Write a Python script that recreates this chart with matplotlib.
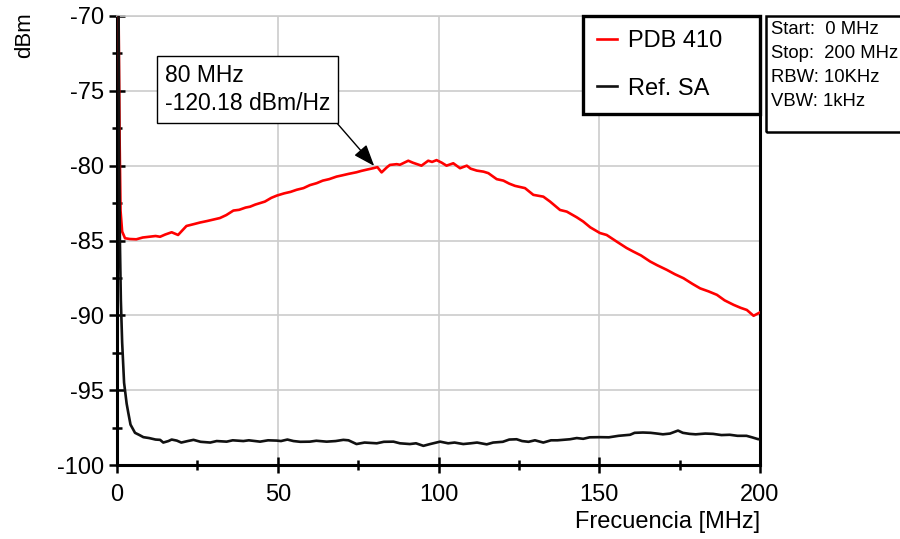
import matplotlib
matplotlib.use("Agg")
import matplotlib.pyplot as plt
from matplotlib.patches import Rectangle
from matplotlib.ticker import MultipleLocator

plt.rcParams['font.family'] = ['Liberation Sans', 'DejaVu Sans']
plt.rcParams['axes.unicode_minus'] = False

# PDB 410 measured spectrum (MHz, dBm)
pdb_freq = [0.5, 0.8, 1.1, 1.6, 2.5, 4, 6, 8, 10, 12, 13.4, 15, 17, 19, 21.6, 24, 25.8,
            28, 30, 32, 34, 36.2, 38, 40, 41.4, 43, 44.5, 46, 48, 49.7, 52, 54, 55.9,
            58, 60, 62.1, 64, 66, 68.3, 70, 72, 74.5, 76, 78, 79.7, 81, 82.3, 84, 84.9,
            87, 88, 90.6, 92, 94.7, 96.8, 98, 99.4, 101, 102.5, 104.6, 106.7, 108.8,
            110, 111.9, 114, 115.5, 118.1, 120.2, 122, 123.8, 126.9, 129.5, 132.6,
            134.7, 137.8, 139.9, 143, 145, 147.2, 150.2, 152.3, 155.4, 158.5, 160.6,
            163, 165.8, 168, 171, 173.5, 176.2, 179, 181.4, 184, 186.6, 189, 191.8,
            194, 195.9, 198, 199.6, 200]
pdb_level = [-70, -78, -83, -84.4, -84.85, -84.9, -84.92, -84.8, -84.75, -84.7, -84.75,
             -84.6, -84.45, -84.63, -84.03, -83.9, -83.8, -83.7, -83.6, -83.5, -83.3,
             -83.0, -82.95, -82.8, -82.74, -82.6, -82.5, -82.4, -82.15, -82.0, -81.85,
             -81.75, -81.61, -81.5, -81.3, -81.17, -81.0, -80.9, -80.73, -80.65, -80.55,
             -80.44, -80.35, -80.25, -80.17, -80.1, -80.45, -80.1, -79.95, -79.9, -79.94,
             -79.67, -79.8, -80.0, -79.67, -79.75, -79.63, -79.8, -80.0, -79.84, -80.17,
             -80.0, -80.2, -80.33, -80.4, -80.5, -80.9, -81.0, -81.2, -81.35, -81.5,
             -81.95, -82.07, -82.4, -82.96, -83.07, -83.45, -83.73, -84.12, -84.5,
             -84.63, -85.07, -85.5, -85.74, -86.0, -86.4, -86.65, -86.96, -87.25,
             -87.52, -87.9, -88.2, -88.4, -88.63, -89.0, -89.3, -89.5, -89.64, -90.03,
             -89.85, -89.8]

# Reference spectrum analyser floor (MHz, dBm)
ref_freq = [0.5, 0.7, 0.9, 1.2, 1.6, 2.2, 3.0, 3.5, 4.2, 5.6, 7, 8.2, 10, 12, 13.4, 14.4,
            16, 17, 18.6, 20, 22, 23.8, 26, 29, 31, 34.1, 36, 39.3, 41, 44.5, 47, 49.7,
            51, 53, 54.9, 57, 60, 62, 65.2, 68, 70.4, 72, 74.5, 77, 80.8, 83, 86, 88,
            91.1, 93, 95.3, 97.4, 100.5, 103, 105, 107.7, 110, 112, 115, 117, 120, 122,
            124.3, 126, 128, 130, 132.6, 135, 137, 140.9, 143, 145, 147, 150.2, 153, 156,
            159.6, 161, 163.6, 166, 168, 169.8, 172, 174.5, 176, 178.1, 180, 183, 185.4,
            188, 190.6, 193, 195.8, 197.5, 199.5, 200]
ref_level = [-70, -80, -85, -89, -91.8, -94.5, -95.9, -96.5, -97.3, -97.85, -98.0, -98.14,
             -98.2, -98.3, -98.32, -98.5, -98.4, -98.3, -98.37, -98.5, -98.4, -98.32,
             -98.45, -98.5, -98.4, -98.44, -98.35, -98.4, -98.35, -98.44, -98.35, -98.37,
             -98.4, -98.3, -98.4, -98.45, -98.44, -98.38, -98.44, -98.4, -98.32, -98.35,
             -98.6, -98.5, -98.55, -98.45, -98.44, -98.55, -98.6, -98.55, -98.72, -98.6,
             -98.44, -98.55, -98.5, -98.6, -98.55, -98.5, -98.62, -98.5, -98.45, -98.3,
             -98.28, -98.4, -98.45, -98.35, -98.5, -98.35, -98.35, -98.28, -98.2, -98.25,
             -98.15, -98.14, -98.15, -98.05, -97.98, -97.85, -97.83, -97.85, -97.9,
             -97.95, -97.9, -97.7, -97.85, -97.92, -97.95, -97.9, -97.92, -98.0, -97.98,
             -98.05, -98.05, -98.15, -98.28, -98.25]

x_ticks = [0, 50, 100, 150, 200]
y_ticks = [-100, -95, -90, -85, -80, -75, -70]
series_labels = ['PDB 410', 'Ref. SA']
marker_freq = 80
marker_label = '80 MHz\n-120.18 dBm/Hz'
info_lines = ['Start:  0 MHz', 'Stop:  200 MHz', 'RBW: 10KHz', 'VBW: 1kHz']

fig = plt.figure(figsize=(9, 5.39), dpi=100)
ax = fig.add_axes([117 / 900, 1 - 465 / 539, 643 / 900, 449 / 539])

ax.plot(pdb_freq, pdb_level, color='#ff0000', lw=1.9, label=series_labels[0], zorder=3)
ax.plot(ref_freq, ref_level, color='#111111', lw=1.9, label=series_labels[1], zorder=3)

ax.set_xlim(0, 200)
ax.set_ylim(-100, -70)
ax.set_xticks(x_ticks)
ax.set_yticks(y_ticks)
ax.xaxis.set_minor_locator(MultipleLocator(25))
ax.yaxis.set_minor_locator(MultipleLocator(2.5))
ax.grid(True, which='major', color='#cccccc', lw=1.2, zorder=0)
ax.set_axisbelow(True)

for side in ('left', 'bottom', 'right'):
    ax.spines[side].set_linewidth(2.2)
    ax.spines[side].set_color('black')
ax.spines['top'].set_color('#cccccc')
ax.spines['top'].set_linewidth(1.2)

ax.tick_params(which='major', direction='inout', length=11, width=1.8,
               labelsize=17, pad=4, colors='black')
ax.tick_params(which='minor', direction='inout', length=7.5, width=1.8, colors='black')
ax.tick_params(axis='x', which='major', pad=8)
ax.tick_params(right=False, top=False, which='both')

ax.text(1.0, -0.127, 'Frecuencia [MHz]', transform=ax.transAxes, ha='right',
        va='center', fontsize=17)
fig.text(25 / 900, 1 - 35 / 539, 'dBm', rotation=90, ha='center', va='center',
         fontsize=16)

# Marker callout
peak_level = pdb_level[pdb_freq.index(79.7)]
ax.annotate(marker_label, xy=(marker_freq, peak_level + 0.15),
            xytext=(14.8, -74.9), textcoords='data', ha='left', va='center',
            fontsize=16.5, linespacing=1.3,
            bbox=dict(boxstyle='square,pad=0.33', fc='white', ec='black', lw=1.0),
            arrowprops=dict(arrowstyle='-|>,head_length=0.8,head_width=0.3',
                            color='black', lw=1.0, relpos=(1, 0),
                            shrinkA=0, shrinkB=0),
            zorder=5)

leg = ax.legend(loc='upper left', bbox_to_anchor=(466 / 643, 1.0, 177 / 643, 0.0),
                mode='expand', borderaxespad=0, fontsize=17, handlelength=0.85,
                handletextpad=0.45, labelspacing=1.08, borderpad=0.6,
                fancybox=False, framealpha=1)
leg.get_frame().set_edgecolor('black')
leg.get_frame().set_linewidth(2.4)
for h in leg.get_lines():
    h.set_linewidth(1.9)

# Sweep settings box
fig.patches.append(Rectangle((766 / 900, 1 - 132 / 539), 140 / 900, 116 / 539,
                             transform=fig.transFigure, fill=False, ec='black', lw=1.8))
for i, line in enumerate(info_lines):
    fig.text(771 / 900, 1 - (30 + 24 * i) / 539, line, ha='left', va='center',
             fontsize=13.3)

fig.savefig('out.png', dpi=100)
